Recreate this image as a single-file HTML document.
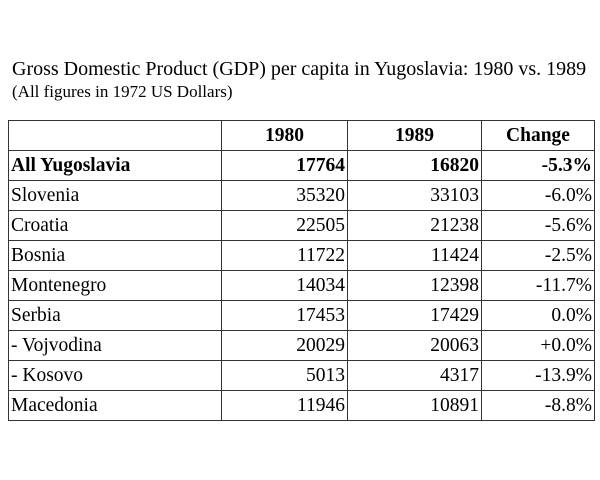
<!DOCTYPE html>
<html><head><style>
body{margin:0;width:600px;height:480px;background:#fff;font-family:"Liberation Serif",serif;color:#000;position:relative;overflow:hidden}
.t{position:absolute;left:12px;top:58px;font-size:20px;white-space:nowrap}
.s{position:absolute;left:12px;top:82px;font-size:17px;white-space:nowrap}
table{position:absolute;left:8px;top:120px;border-collapse:collapse;font-size:19.5px}
td{border:1px solid #333;height:29px;padding:0 2px;text-align:right;line-height:29px;white-space:nowrap}
td:first-child{text-align:left;width:208px}
td:nth-child(2){width:121px}td:nth-child(3){width:129px}td:nth-child(4){width:108px}
.b td{font-weight:bold}
.h td{text-align:center}
</style></head><body>
<div class="t">Gross Domestic Product (GDP) per capita in Yugoslavia: 1980 vs. 1989</div>
<div class="s">(All figures in 1972 US Dollars)</div>
<table>
<tr class="b h"><td></td><td>1980</td><td>1989</td><td>Change</td></tr>
<tr class="b"><td>All Yugoslavia</td><td>17764</td><td>16820</td><td>-5.3%</td></tr>
<tr><td>Slovenia</td><td>35320</td><td>33103</td><td>-6.0%</td></tr>
<tr><td>Croatia</td><td>22505</td><td>21238</td><td>-5.6%</td></tr>
<tr><td>Bosnia</td><td>11722</td><td>11424</td><td>-2.5%</td></tr>
<tr><td>Montenegro</td><td>14034</td><td>12398</td><td>-11.7%</td></tr>
<tr><td>Serbia</td><td>17453</td><td>17429</td><td>0.0%</td></tr>
<tr><td>- Vojvodina</td><td>20029</td><td>20063</td><td>+0.0%</td></tr>
<tr><td>- Kosovo</td><td>5013</td><td>4317</td><td>-13.9%</td></tr>
<tr><td>Macedonia</td><td>11946</td><td>10891</td><td>-8.8%</td></tr>
</table>
</body></html>
